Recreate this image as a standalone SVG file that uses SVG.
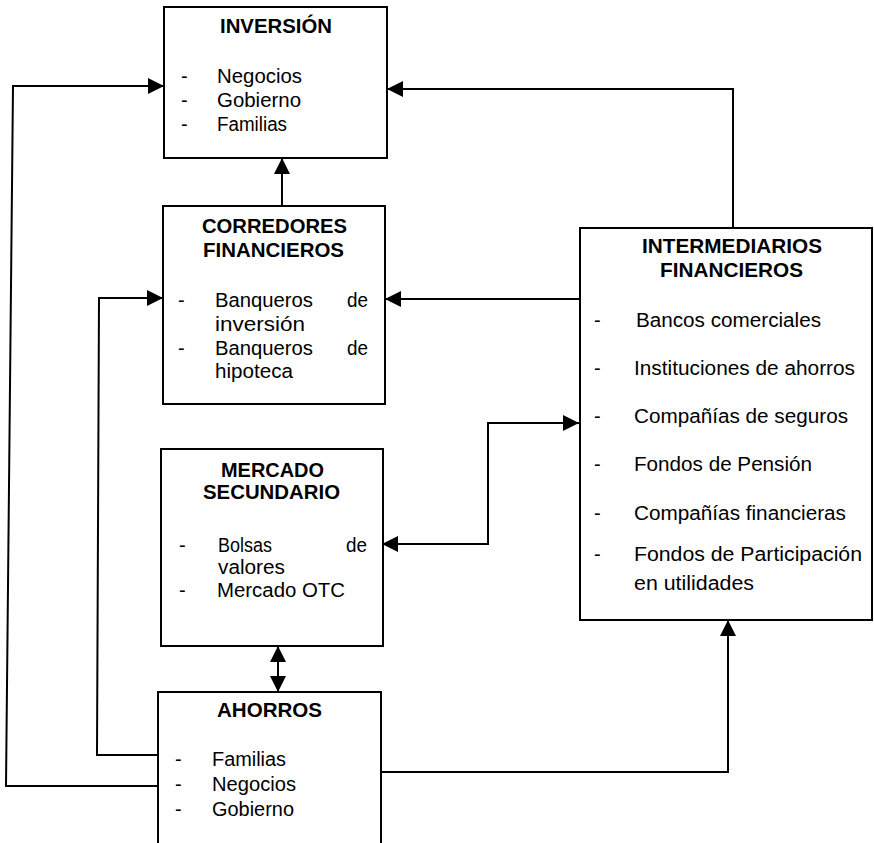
<svg xmlns="http://www.w3.org/2000/svg" width="874" height="843" viewBox="0 0 874 843">
  <style>
    .box { fill: #ffffff; stroke: #000000; stroke-width: 2; }
    .ttl { font-family: "Liberation Sans", Arial, sans-serif; font-size: 20px; font-weight: bold; fill: #000000; text-anchor: start; }
    .txt { font-family: "Liberation Sans", Arial, sans-serif; font-size: 20px; fill: #000000; }
    .con { fill: none; stroke: #000000; stroke-width: 2; }
  </style>
  <defs>
    <marker id="ah" markerUnits="userSpaceOnUse" markerWidth="18" markerHeight="16" refX="16" refY="8" orient="auto-start-reverse" viewBox="0 0 18 16">
      <path d="M0,0 L16,8 L0,16 z" fill="#000000"/>
    </marker>
  </defs>
  <rect x="0" y="0" width="874" height="843" fill="#ffffff"/>

  <g id="connectors">
    <path class="con" d="M158,786 L6,786 L13,86 L164,86" marker-end="url(#ah)"/>
    <path class="con" d="M158,755 L97,755 L99,298 L163,298" marker-end="url(#ah)"/>
    <path class="con" d="M582,299 L385,299" marker-end="url(#ah)"/>
    <path class="con" d="M733,228 L733,89 L387,89" marker-end="url(#ah)"/>
    <path class="con" d="M282,206 L282,158" marker-end="url(#ah)"/>
    <path class="con" d="M382,544 L488,544 L488,423 L579,423" marker-start="url(#ah)" marker-end="url(#ah)"/>
    <path class="con" d="M278,646 L278,692" marker-start="url(#ah)" marker-end="url(#ah)"/>
    <path class="con" d="M381,772 L728,772 L728,620" marker-end="url(#ah)"/>
  </g>

  <g id="inversion">
    <rect class="box" x="164" y="7" width="223" height="151"/>
    <text class="ttl" x="220" y="33" textLength="112" lengthAdjust="spacingAndGlyphs">INVERSIÓN</text>
    <text class="txt" x="181" y="83">-</text>
    <text class="txt" x="217" y="83" textLength="85" lengthAdjust="spacingAndGlyphs">Negocios</text>
    <text class="txt" x="181" y="107">-</text>
    <text class="txt" x="217" y="107" textLength="84" lengthAdjust="spacingAndGlyphs">Gobierno</text>
    <text class="txt" x="181" y="131">-</text>
    <text class="txt" x="217" y="131" textLength="70" lengthAdjust="spacingAndGlyphs">Familias</text>
  </g>

  <g id="corredores">
    <rect class="box" x="163" y="206" width="222" height="198"/>
    <text class="ttl" x="202" y="233" textLength="145" lengthAdjust="spacingAndGlyphs">CORREDORES</text>
    <text class="ttl" x="203" y="257" textLength="141" lengthAdjust="spacingAndGlyphs">FINANCIEROS</text>
    <text class="txt" x="178" y="307">-</text>
    <text class="txt" x="215" y="307" textLength="98" lengthAdjust="spacingAndGlyphs">Banqueros</text>
    <text class="txt" x="347" y="307" textLength="21" lengthAdjust="spacingAndGlyphs">de</text>
    <text class="txt" x="215" y="331" textLength="90" lengthAdjust="spacingAndGlyphs">inversión</text>
    <text class="txt" x="178" y="355">-</text>
    <text class="txt" x="215" y="355" textLength="98" lengthAdjust="spacingAndGlyphs">Banqueros</text>
    <text class="txt" x="347" y="355" textLength="21" lengthAdjust="spacingAndGlyphs">de</text>
    <text class="txt" x="215" y="378" textLength="78" lengthAdjust="spacingAndGlyphs">hipoteca</text>
  </g>

  <g id="mercado">
    <rect class="box" x="161" y="449" width="222" height="197"/>
    <text class="ttl" x="221" y="477" textLength="103" lengthAdjust="spacingAndGlyphs">MERCADO</text>
    <text class="ttl" x="203" y="499" textLength="137" lengthAdjust="spacingAndGlyphs">SECUNDARIO</text>
    <text class="txt" x="179" y="552">-</text>
    <text class="txt" x="218" y="552" textLength="54" lengthAdjust="spacingAndGlyphs">Bolsas</text>
    <text class="txt" x="346" y="552" textLength="21" lengthAdjust="spacingAndGlyphs">de</text>
    <text class="txt" x="218" y="574" textLength="67" lengthAdjust="spacingAndGlyphs">valores</text>
    <text class="txt" x="179" y="597">-</text>
    <text class="txt" x="217" y="597" textLength="128" lengthAdjust="spacingAndGlyphs">Mercado OTC</text>
  </g>

  <g id="ahorros">
    <rect class="box" x="158" y="692" width="223" height="160"/>
    <text class="ttl" x="217" y="717" textLength="105" lengthAdjust="spacingAndGlyphs">AHORROS</text>
    <text class="txt" x="175" y="766">-</text>
    <text class="txt" x="212" y="766" textLength="74" lengthAdjust="spacingAndGlyphs">Familias</text>
    <text class="txt" x="175" y="791">-</text>
    <text class="txt" x="212" y="791" textLength="84" lengthAdjust="spacingAndGlyphs">Negocios</text>
    <text class="txt" x="175" y="816">-</text>
    <text class="txt" x="212" y="816" textLength="82" lengthAdjust="spacingAndGlyphs">Gobierno</text>
  </g>

  <g id="intermediarios">
    <rect class="box" x="580" y="228" width="292" height="392"/>
    <text class="ttl" x="642" y="253" textLength="180" lengthAdjust="spacingAndGlyphs">INTERMEDIARIOS</text>
    <text class="ttl" x="660" y="277" textLength="143" lengthAdjust="spacingAndGlyphs">FINANCIEROS</text>
    <text class="txt" x="594" y="327">-</text>
    <text class="txt" x="636" y="327" textLength="185" lengthAdjust="spacingAndGlyphs">Bancos comerciales</text>
    <text class="txt" x="594" y="375">-</text>
    <text class="txt" x="634" y="375" textLength="221" lengthAdjust="spacingAndGlyphs">Instituciones de ahorros</text>
    <text class="txt" x="594" y="423">-</text>
    <text class="txt" x="634" y="423" textLength="214" lengthAdjust="spacingAndGlyphs">Compañías de seguros</text>
    <text class="txt" x="594" y="471">-</text>
    <text class="txt" x="634" y="471" textLength="178" lengthAdjust="spacingAndGlyphs">Fondos de Pensión</text>
    <text class="txt" x="594" y="520">-</text>
    <text class="txt" x="634" y="520" textLength="212" lengthAdjust="spacingAndGlyphs">Compañías financieras</text>
    <text class="txt" x="594" y="561">-</text>
    <text class="txt" x="634" y="561" textLength="228" lengthAdjust="spacingAndGlyphs">Fondos de Participación</text>
    <text class="txt" x="634" y="590" textLength="120" lengthAdjust="spacingAndGlyphs">en utilidades</text>
  </g>
</svg>
